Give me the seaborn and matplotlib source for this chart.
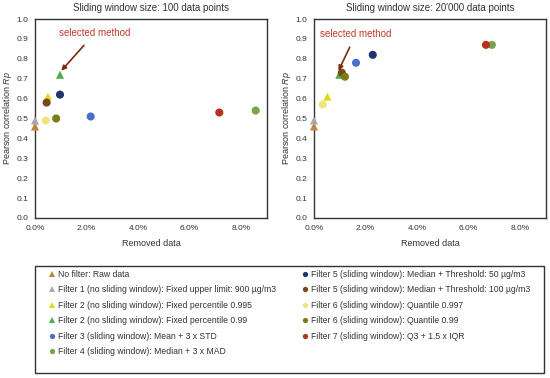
import matplotlib
matplotlib.use("Agg")
import matplotlib.pyplot as plt
import seaborn as sns
import pandas as pd
from matplotlib.lines import Line2D
from matplotlib.patches import Rectangle
from matplotlib.ticker import FuncFormatter

sns.set_style("white")
plt.rcParams['font.family'] = ['Liberation Sans', 'DejaVu Sans']
plt.rcParams['mathtext.fontset'] = 'custom'
plt.rcParams['mathtext.it'] = 'Liberation Sans:italic'
plt.rcParams['mathtext.rm'] = 'Liberation Sans'

# ---------------- data ----------------
series = [
    "No filter: Raw data",
    "Filter 1 (no sliding window): Fixed upper limit: 900 µg/m3",
    "Filter 2 (no sliding window): Fixed percentile 0.995",
    "Filter 2 (no sliding window): Fixed percentile 0.99",
    "Filter 3 (sliding window): Mean + 3 x STD",
    "Filter 4 (sliding window): Median + 3 x MAD",
    "Filter 5 (sliding window): Median + Threshold: 50 µg/m3",
    "Filter 5 (sliding window): Median + Threshold: 100 µg/m3",
    "Filter 6 (sliding window): Quantile 0.997",
    "Filter 6 (sliding window): Quantile 0.99",
    "Filter 7 (sliding window): Q3 + 1.5 x IQR",
]
removed_100 = [0.0, 0.0, 0.50, 0.97, 2.16, 8.56, 0.97, 0.45, 0.42, 0.82, 7.15]
rp_100 = [0.46, 0.49, 0.61, 0.72, 0.51, 0.54, 0.62, 0.58, 0.49, 0.50, 0.53]
removed_20k = [0.0, 0.0, 0.52, 0.98, 1.63, 6.90, 2.28, 1.08, 0.34, 1.20, 6.67]
rp_20k = [0.46, 0.49, 0.61, 0.72, 0.78, 0.87, 0.82, 0.73, 0.57, 0.71, 0.87]

colors = ["#C0853A", "#A8A8A8", "#E0D820", "#4EAE4A", "#4A6FC8", "#78A450",
          "#1F3470", "#7A4A14", "#F0E67A", "#7C7C14", "#B5321E"]
marker_shapes = ["^", "^", "^", "^", "o", "o", "o", "o", "o", "o", "o"]

titles = ["Sliding window size: 100 data points",
          "Sliding window size: 20'000 data points"]
x_ticks = [0, 2, 4, 6, 8]
y_ticks = [0.0, 0.1, 0.2, 0.3, 0.4, 0.5, 0.6, 0.7, 0.8, 0.9, 1.0]
annot_text = "selected method"
annot_100 = {"xy": (1.02, 0.74), "xytext": (2.33, 0.93)}
annot_20k = {"xy": (0.95, 0.74), "xytext": (1.63, 0.925)}

# ---------------- figure ----------------
W, H = 550, 378
fig = plt.figure(figsize=(W / 100, H / 100), dpi=100)
ax1 = fig.add_axes([35 / W, 1 - 218 / H, 232 / W, 199 / H])
ax2 = fig.add_axes([314 / W, 1 - 218 / H, 232 / W, 199 / H])

palette = dict(zip(series, colors))
markers = dict(zip(series, marker_shapes))
txt_col = "#333333"

for ax, xs, ys, title, ann in [(ax1, removed_100, rp_100, titles[0], annot_100),
                               (ax2, removed_20k, rp_20k, titles[1], annot_20k)]:
    df = pd.DataFrame({"series": series, "removed": xs, "rp": ys})
    sns.scatterplot(data=df, x="removed", y="rp", hue="series", style="series",
                    palette=palette, markers=markers, s=34, linewidth=0,
                    legend=False, ax=ax, zorder=3, clip_on=False)
    ax.set_xlim(0, 9)
    ax.set_ylim(0, 1.0)
    ax.set_xticks(x_ticks)
    ax.set_yticks(y_ticks)
    ax.xaxis.set_major_formatter(FuncFormatter(lambda v, p: f"{v:.1f}%"))
    ax.yaxis.set_major_formatter(FuncFormatter(lambda v, p: f"{v:.1f}"))
    ax.tick_params(axis="x", direction="inout", length=4, width=0.8,
                   labelsize=6, colors=txt_col, pad=3)
    ax.tick_params(axis="y", direction="out", length=3, width=0.8,
                   labelsize=6, colors=txt_col, pad=2)
    ax.tick_params(axis="both", color="#444444")
    for sp in ax.spines.values():
        sp.set_color("#333333")
        sp.set_linewidth(1.0)
    ax.set_title(title, fontsize=7, color=txt_col, pad=6)
    ax.set_xlabel("Removed data", fontsize=6.5, color=txt_col, labelpad=5)
    ax.set_ylabel("Pearson correlation $\\it{Rp}$", fontsize=6.5, color=txt_col,
                  labelpad=1.5)
    ax.annotate(annot_text, xy=ann["xy"], xytext=ann["xytext"],
                fontsize=7, color="#C0392B", ha="center", va="center",
                arrowprops=dict(arrowstyle="-|>", color="#7A2A10", lw=1.2,
                                mutation_scale=7, shrinkA=4, shrinkB=0))

# legend frame
fig.patches.append(Rectangle((35 / W, 1 - 373 / H), (544 - 35) / W, (373 - 266) / H,
                             transform=fig.transFigure, fill=False,
                             edgecolor="#333333", linewidth=1.0))

handles = [Line2D([], [], linestyle="none", marker=m, color=c, markersize=3.8,
                  markeredgewidth=0)
           for m, c in zip(marker_shapes, colors)]
leg_kw = dict(frameon=False, fontsize=6.2, handlelength=0.6, handletextpad=0.4,
              labelspacing=0.75, borderpad=0, borderaxespad=0, labelcolor=txt_col)
fig.legend(handles[:6], series[:6], loc="upper left",
           bbox_to_anchor=(49 / W, 1 - 270 / H), **leg_kw)
fig.legend(handles[6:], series[6:], loc="upper left",
           bbox_to_anchor=(302 / W, 1 - 270 / H), **leg_kw)

fig.savefig("out.png", dpi=100)
